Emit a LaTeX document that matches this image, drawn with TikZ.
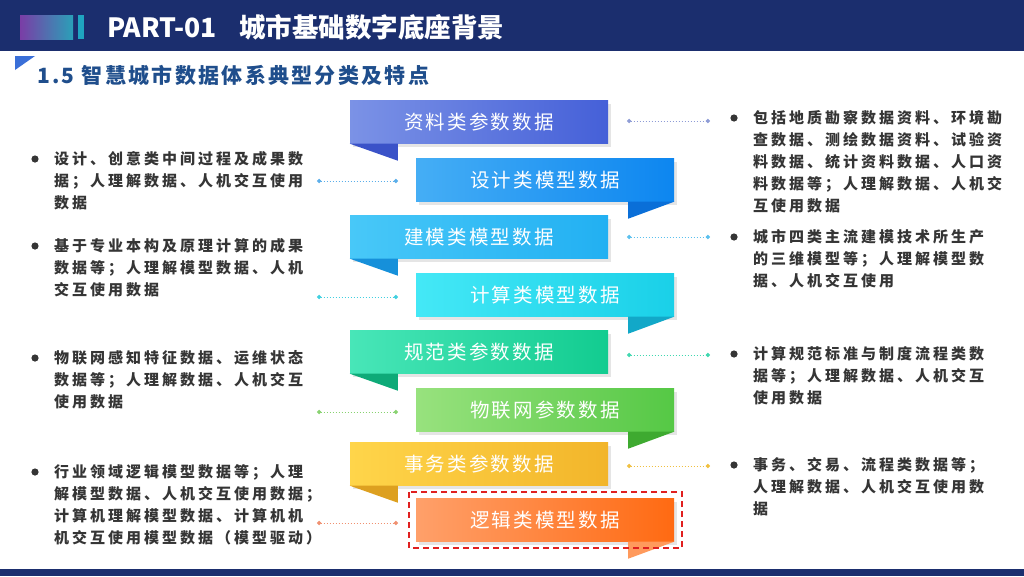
\documentclass[tikz,border=0pt]{standalone}
\usepackage{fontspec}
\setmainfont{Noto Sans CJK SC}
\usetikzlibrary{arrows.meta}
\definecolor{navy}{HTML}{1B2E6E}
\definecolor{subblue}{HTML}{1F4E8C}
\definecolor{tri}{HTML}{3A6FD8}
\definecolor{txtc}{HTML}{353535}
\definecolor{accL}{HTML}{7A3DA6}
\definecolor{accR}{HTML}{2AA0B8}
\definecolor{accB}{HTML}{1FA5C0}
\definecolor{redbox}{HTML}{E02020}
% banner colours
\definecolor{aL}{HTML}{7B92E6}\definecolor{aR}{HTML}{4560D8}\definecolor{aF}{HTML}{3A52C8}
\definecolor{bL}{HTML}{45AEF5}\definecolor{bR}{HTML}{0D86F0}\definecolor{bF}{HTML}{0A6FD8}
\definecolor{cL}{HTML}{48C8F8}\definecolor{cR}{HTML}{22B0F2}\definecolor{cF}{HTML}{1690DA}
\definecolor{dL}{HTML}{44E8F6}\definecolor{dR}{HTML}{1AD0E8}\definecolor{dF}{HTML}{12A8C8}
\definecolor{eL}{HTML}{48E6B8}\definecolor{eR}{HTML}{12CC90}\definecolor{eF}{HTML}{0EAA78}
\definecolor{fL}{HTML}{98E27E}\definecolor{fR}{HTML}{55C845}\definecolor{fF}{HTML}{3EAA30}
\definecolor{gL}{HTML}{FFD54A}\definecolor{gR}{HTML}{F2B52A}\definecolor{gF}{HTML}{DDA020}
\definecolor{hL}{HTML}{FFA06A}\definecolor{hR}{HTML}{FF6A12}\definecolor{hF}{HTML}{FF9A5C}
% connector colours
\definecolor{k1}{HTML}{8E9CD6}\definecolor{k2}{HTML}{5AAEEA}\definecolor{k3}{HTML}{5AC0EE}
\definecolor{k4}{HTML}{40D0E0}\definecolor{k5}{HTML}{40D8B0}\definecolor{k6}{HTML}{88D270}
\definecolor{k7}{HTML}{F0C040}\definecolor{k8}{HTML}{F09070}
\begin{document}
\begin{tikzpicture}[x=1pt,y=-1pt,
  banner/.style={minimum width=258pt, minimum height=43pt, inner sep=0pt, text=white,
    font=\fontsize{19.5}{21}\selectfont\addfontfeature{LetterSpace=11}},
  txt/.style={anchor=north west, inner sep=0pt, align=left, text=txtc,
    font=\fontsize{15}{22}\selectfont\bfseries\addfontfeature{LetterSpace=20}},
  conn/.style={line width=1pt, dash pattern=on 1.6pt off 1.4pt,
    {Circle[length=4.2pt]}-{Circle[length=4.2pt]}},
  bul/.style={fill=txtc}
]
\useasboundingbox (0,0) rectangle (1024,576);
\fill[white] (0,0) rectangle (1024,576);
% header
\fill[navy] (0,0) rectangle (1024,51);
\shade[left color=accL, right color=accR] (20,15) rectangle (73,39);
\fill[accB] (78,15) rectangle (84,39);
\node[anchor=west, inner sep=0pt, text=white, font=\fontsize{26.5}{28}\selectfont\bfseries]
  (title) at (107,27) {PART-01\hspace{22pt}城市基础数字底座背景};
% subtitle
\fill[tri] (15,56) -- (35,56) -- (15,70) -- cycle;
\node[anchor=west, inner sep=0pt, text=subblue, font=\fontsize{21}{24}\selectfont\bfseries\addfontfeature{LetterSpace=11}]
  (sub) at (37,75) {1.5 智慧城市数据体系典型分类及特点};
% bottom bar
\fill[navy] (0,569) rectangle (1024,576);

% banners: shadows
\foreach \cx/\cy in {479/122,545/180,479/237,545/295,479/352,545/410,479/464,545/520}
  \fill[black, opacity=0.10] (\cx-129+3,\cy-21.5+3) rectangle (\cx+129+3,\cy+21.5+3);

% banners (odd: fold bottom-left, even: fold bottom-right)
\node[banner, left color=aL, right color=aR] (b1) at (479,122) {资料类参数数据};
\fill[aF] (b1.south west) -- ++(48,0) -- ++(0,17) -- cycle;
\node[banner, left color=bL, right color=bR] (b2) at (545,180) {设计类模型数据};
\fill[bF] (b2.south east) -- ++(-46,0) -- ++(0,17) -- cycle;
\node[banner, left color=cL, right color=cR] (b3) at (479,237) {建模类模型数据};
\fill[cF] (b3.south west) -- ++(48,0) -- ++(0,17) -- cycle;
\node[banner, left color=dL, right color=dR] (b4) at (545,295) {计算类模型数据};
\fill[dF] (b4.south east) -- ++(-46,0) -- ++(0,17) -- cycle;
\node[banner, left color=eL, right color=eR] (b5) at (479,352) {规范类参数数据};
\fill[eF] (b5.south west) -- ++(48,0) -- ++(0,17) -- cycle;
\node[banner, left color=fL, right color=fR] (b6) at (545,410) {物联网参数数据};
\fill[fF] (b6.south east) -- ++(-46,0) -- ++(0,17) -- cycle;
\node[banner, left color=gL, right color=gR] (b7) at (479,464) {事务类参数数据};
\fill[gF] (b7.south west) -- ++(48,0) -- ++(0,17) -- cycle;
\node[banner, left color=hL, right color=hR] (b8) at (545,520) {逻辑类模型数据};
\fill[hF] (b8.south east) -- ++(-46,0) -- ++(0,17) -- cycle;
% red dashed highlight
\draw[redbox, line width=1.6pt, dash pattern=on 6pt off 4pt] (409,492) rectangle (682,548);

% connectors left
\coordinate (l1a) at (317,181); \coordinate (l1b) at (398,181);
\coordinate (l2a) at (317,297); \coordinate (l2b) at (398,297);
\coordinate (l3a) at (317,412); \coordinate (l3b) at (398,412);
\coordinate (l4a) at (317,523); \coordinate (l4b) at (398,523);
\draw[conn, k2] (l1a) -- (l1b);
\draw[conn, k4] (l2a) -- (l2b);
\draw[conn, k6] (l3a) -- (l3b);
\draw[conn, k8] (l4a) -- (l4b);
% connectors right
\coordinate (r1a) at (627,121); \coordinate (r1b) at (710,121);
\coordinate (r2a) at (627,237); \coordinate (r2b) at (710,237);
\coordinate (r3a) at (627,355); \coordinate (r3b) at (710,355);
\coordinate (r4a) at (627,466); \coordinate (r4b) at (710,466);
\draw[conn, k1] (r1a) -- (r1b);
\draw[conn, k3] (r2a) -- (r2b);
\draw[conn, k5] (r3a) -- (r3b);
\draw[conn, k7] (r4a) -- (r4b);

% left texts
\fill[bul] (35,159) circle (3.6);
\node[txt] (t1) at (54,151) {设计、创意类中间过程及成果数\\据；人理解数据、人机交互使用\\数据};
\fill[bul] (35,246) circle (3.6);
\node[txt] (t2) at (54,238) {基于专业本构及原理计算的成果\\数据等；人理解模型数据、人机\\交互使用数据};
\fill[bul] (35,358) circle (3.6);
\node[txt] (t3) at (54,350) {物联网感知特征数据、运维状态\\数据等；人理解数据、人机交互\\使用数据};
\fill[bul] (35,472) circle (3.6);
\node[txt] (t4) at (54,464) {行业领域逻辑模型数据等；人理\\解模型数据、人机交互使用数据；\\计算机理解模型数据、计算机机\\机交互使用模型数据（模型驱动）};
% right texts
\fill[bul] (734,118) circle (3.6);
\node[txt] (u1) at (753,110) {包括地质勘察数据资料、环境勘\\查数据、测绘数据资料、试验资\\料数据、统计资料数据、人口资\\料数据等；人理解数据、人机交\\互使用数据};
\fill[bul] (734,237) circle (3.6);
\node[txt] (u2) at (753,229) {城市四类主流建模技术所生产\\的三维模型等；人理解模型数\\据、人机交互使用};
\fill[bul] (734,354) circle (3.6);
\node[txt] (u3) at (753,346) {计算规范标准与制度流程类数\\据等；人理解数据、人机交互\\使用数据};
\fill[bul] (734,465) circle (3.6);
\node[txt] (u4) at (753,457) {事务、交易、流程类数据等；\\人理解数据、人机交互使用数\\据};
\end{tikzpicture}
\end{document}
